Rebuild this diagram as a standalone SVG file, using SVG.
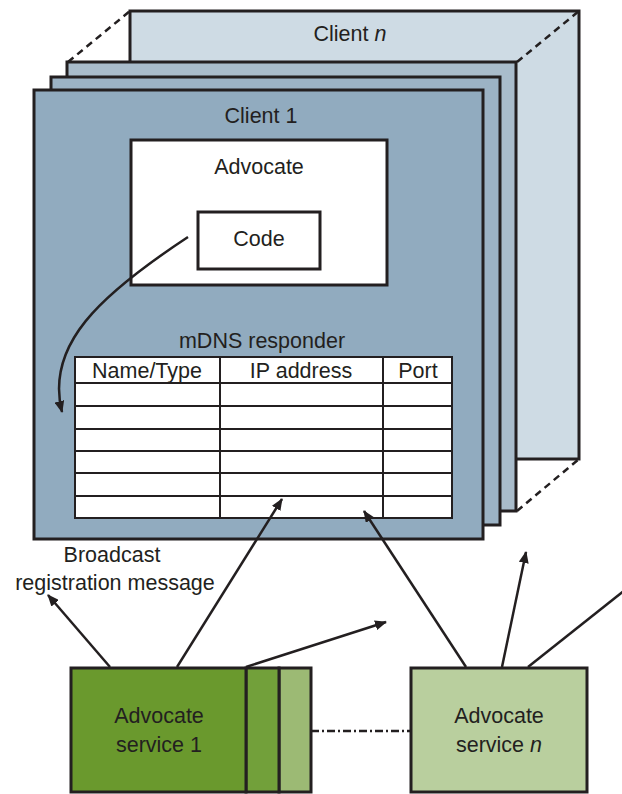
<svg xmlns="http://www.w3.org/2000/svg" width="622" height="794" viewBox="0 0 622 794">
<defs>
<style>
.t{font-family:"Liberation Sans",Arial,sans-serif;font-size:21.5px;fill:#231f20;text-anchor:middle}
.frame{stroke:#231f20;stroke-width:3}
.box{fill:#fff;stroke:#231f20;stroke-width:3}
.line{stroke:#231f20;stroke-width:2.5;fill:none}
.dash{stroke:#231f20;stroke-width:2.5;stroke-dasharray:7,5;fill:none}
.tbl{stroke:#231f20;stroke-width:2;fill:none}
</style>
<marker id="ah" viewBox="0 0 12 10" refX="11" refY="5" markerWidth="12" markerHeight="10" markerUnits="userSpaceOnUse" orient="auto">
<path d="M0,0 L12,5 L0,10 Z" fill="#231f20"/>
</marker>
</defs>
<rect width="622" height="794" fill="#fff"/>

<g id="client-n">
<rect class="frame" x="130" y="11" width="449" height="448" fill="#cedbe4"/>
<text class="t" x="350" y="41">Client <tspan font-style="italic">n</tspan></text>
</g>
<g id="client-2">
<rect class="frame" x="67" y="62" width="449" height="449" fill="#a9bccb"/>
</g>
<g id="client-3">
<rect class="frame" x="51" y="77" width="449" height="448" fill="#9cb3c5"/>
</g>
<g id="client-1">
<rect class="frame" x="34" y="90" width="449" height="449" fill="#91abbf"/>
<text class="t" x="261" y="123">Client 1</text>
</g>
<g id="advocate">
<rect class="box" x="131" y="140" width="256" height="145"/>
<text class="t" x="259" y="174">Advocate</text>
</g>
<g id="code">
<rect class="box" x="198" y="212" width="122" height="57" stroke-width="2.5"/>
<text class="t" x="259" y="246">Code</text>
</g>
<g id="mdns-responder">
<text class="t" x="262" y="348">mDNS responder</text>
<rect x="75" y="357" width="377" height="161" fill="#fff" stroke="#231f20" stroke-width="2"/>
<path class="tbl" d="M75,383H452 M75,406H452 M75,429H452 M75,451H452 M75,473H452 M75,496H452 M220,357V518 M383,357V518"/>
<text class="t" x="147" y="378">Name/Type</text>
<text class="t" x="301" y="378">IP address</text>
<text class="t" x="418" y="378">Port</text>
</g>
<g id="advocate-service-1">
<rect x="279" y="668" width="32" height="124" fill="#9cba74" stroke="#231f20" stroke-width="3"/>
<rect x="246" y="668" width="33" height="124" fill="#72a03a" stroke="#231f20" stroke-width="3"/>
<rect x="71" y="668" width="175" height="124" fill="#6a992d" stroke="#231f20" stroke-width="3"/>
<text class="t" x="159" y="723">Advocate</text>
<text class="t" x="159" y="752">service 1</text>
</g>
<g id="advocate-service-n">
<rect x="411" y="668" width="176" height="124" fill="#b9cf9e" stroke="#231f20" stroke-width="3"/>
<text class="t" x="499" y="723">Advocate</text>
<text class="t" x="499" y="752">service <tspan font-style="italic">n</tspan></text>
</g>
<g id="label-broadcast">
<text class="t" x="112" y="562">Broadcast</text>
<text class="t" x="115" y="590">registration message</text>
</g>
<g id="connectors">
<path class="dash" d="M68,62 L130,11"/>
<path class="dash" d="M517,62 L579,11"/>
<path class="dash" d="M517,511 L579,459"/>
<path class="line" d="M188,237 C100,295 45,345 62,412" marker-end="url(#ah)"/>
<path class="line" d="M110,667 L48,595" marker-end="url(#ah)"/>
<path class="line" d="M177,667 L282,499" marker-end="url(#ah)"/>
<path class="line" d="M246,667 L386,622" marker-end="url(#ah)"/>
<path class="line" d="M466,667 L364,511" marker-end="url(#ah)"/>
<path class="line" d="M502,667 L526,552" marker-end="url(#ah)"/>
<path class="line" d="M528,667 L625,590"/>
<path d="M311,731 H411" stroke="#231f20" stroke-width="2.5" stroke-dasharray="8,3,2,3" fill="none"/>
</g>
</svg>
